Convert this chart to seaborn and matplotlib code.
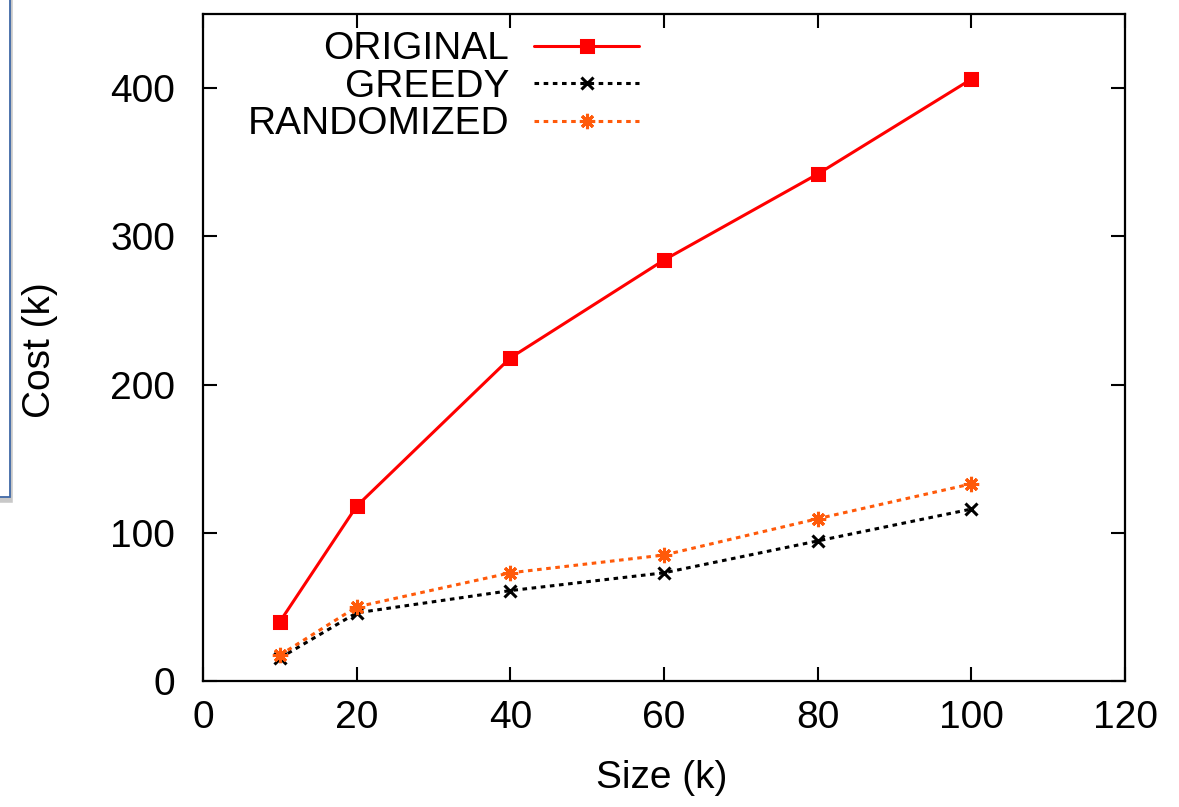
import matplotlib
matplotlib.use("Agg")
import matplotlib.pyplot as plt
from matplotlib.patches import Rectangle
import seaborn as sns
import pandas as pd

# Problem size (thousands) and cost (thousands) for each method
sizes = [10, 20, 40, 60, 80, 100]
original = [40, 118, 218, 284, 342, 406]
greedy = [15.5, 46, 61, 73, 94.5, 116]
randomized = [17.5, 50, 73, 85, 109.5, 133]

series_names = ["ORIGINAL", "GREEDY", "RANDOMIZED"]
x_ticks = [0, 20, 40, 60, 80, 100, 120]
y_ticks = [0, 100, 200, 300, 400]

series_values = {"ORIGINAL": original, "GREEDY": greedy, "RANDOMIZED": randomized}

sns.set_theme(style="ticks")
plt.rcParams["font.family"] = ["Liberation Sans", "DejaVu Sans"]
plt.rcParams["text.color"] = "black"
plt.rcParams["axes.labelcolor"] = "black"

FS = 28

fig = plt.figure(figsize=(11.79, 8.07), dpi=100)
ax = fig.add_axes([0.1722, 0.1561, 0.9542 - 0.1722, 0.9827 - 0.1561])

styles = {
    "ORIGINAL": dict(color="#ff0000", marker="s", linestyle="-", markersize=8),
    "GREEDY": dict(color="#000000", marker="x", linestyle=(0, (1.5, 1.5)), markersize=9),
    "RANDOMIZED": dict(color="#ff5a0a", marker=(8, 2, 0), linestyle=(0, (1.5, 1.5)), markersize=11),
}

for name in series_names:
    df = pd.DataFrame({"Size": sizes, "Cost": series_values[name]})
    st = styles[name]
    sns.lineplot(data=df, x="Size", y="Cost", ax=ax, label=name,
                 color=st["color"], marker=st["marker"], linestyle=st["linestyle"],
                 markersize=st["markersize"], markeredgewidth=2.2,
                 markeredgecolor=st["color"], markerfacecolor=st["color"],
                 linewidth=2.2)

ax.set_xlim(0, 120)
ax.set_ylim(0, 450)
ax.set_xticks(x_ticks)
ax.set_yticks(y_ticks)
ax.tick_params(direction="in", length=10, width=1.5, labelsize=FS,
               top=True, right=True, colors="black", labelcolor="black")
ax.tick_params(axis="x", pad=14)
ax.tick_params(axis="y", pad=20)
for sp in ax.spines.values():
    sp.set_linewidth(1.6)
    sp.set_color("black")

ax.set_xlabel("Size (k)", fontsize=FS, color="black")
ax.set_ylabel("Cost (k)", fontsize=FS, color="black")
ax.xaxis.set_label_coords(0.497, -0.118)
ax.yaxis.set_label_coords(-0.157, 0.496)

handles, labels = ax.get_legend_handles_labels()
leg = ax.legend(handles, labels, loc="upper right", bbox_to_anchor=(0.5025, 1.015),
                frameon=False, markerfirst=False, fontsize=FS,
                handlelength=2.7, handletextpad=0.64, labelspacing=0.04,
                borderpad=0.2)
for t in leg.get_texts():
    t.set_color("black")

# Edge of a neighbouring panel at the left margin
fig.patches.append(Rectangle((-0.02, 1 - 500 / 807), 0.0282, 0.65,
                             transform=fig.transFigure, facecolor="none",
                             edgecolor="#c8c8c8", linewidth=4, zorder=0))
fig.patches.append(Rectangle((-0.02, 1 - 497 / 807), 0.0285, 0.65,
                             transform=fig.transFigure, facecolor="white",
                             edgecolor="#3f68a6", linewidth=1.3, zorder=1))

fig.savefig("out.png", dpi=100)
